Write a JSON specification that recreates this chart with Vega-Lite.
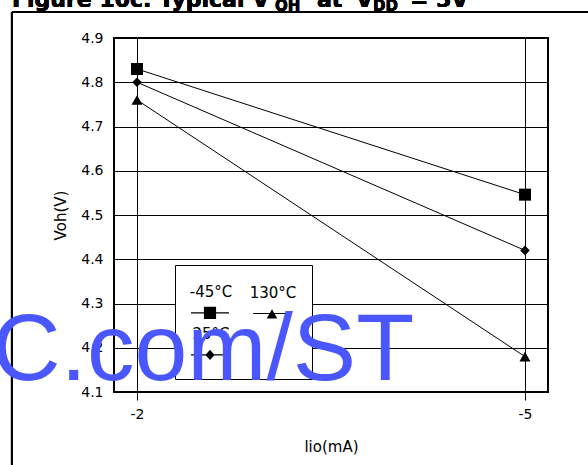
{
  "$schema": "https://vega.github.io/schema/vega-lite/v6.json",
  "width": 434,
  "height": 354,
  "autosize": "none",
  "padding": {"left": 114, "top": 38, "right": 40, "bottom": 73},
  "background": "white",
  "title": {
    "text": "C.com/ST",
    "orient": "bottom",
    "anchor": "start",
    "frame": "group",
    "dx": -122,
    "offset": -88,
    "baseline": "alphabetic",
    "font": "Liberation Sans",
    "fontSize": 95,
    "fontWeight": "normal",
    "color": "#4a57ff"
  },
  "config": {
    "view": {"stroke": "black", "strokeWidth": 2},
    "axis": {
      "domain": false,
      "grid": true,
      "gridColor": "black",
      "gridOpacity": 1,
      "gridWidth": 1,
      "labelFont": "DejaVu Sans",
      "labelFontSize": 14,
      "labelColor": "black",
      "titleFont": "DejaVu Sans",
      "titleFontSize": 15,
      "titleFontWeight": "normal",
      "titleColor": "black",
      "tickColor": "black"
    },
    "text": {"font": "DejaVu Sans", "fontWeight": "bold", "fontSize": 22, "color": "black", "align": "left", "baseline": "alphabetic"}
  },
  "data": {
    "values": [
      {"series": "-45°C", "iio": -2, "voh": 4.83},
      {"series": "-45°C", "iio": -5, "voh": 4.546},
      {"series": "25°C", "iio": -2, "voh": 4.80},
      {"series": "25°C", "iio": -5, "voh": 4.42},
      {"series": "130°C", "iio": -2, "voh": 4.76},
      {"series": "130°C", "iio": -5, "voh": 4.18}
    ]
  },
  "resolve": {"scale": {"shape": "independent"}, "legend": {"shape": "independent"}},
  "layer": [
    {
      "mark": {"type": "line", "color": "black", "strokeWidth": 1},
      "encoding": {
        "x": {
          "field": "iio",
          "type": "quantitative",
          "scale": {"domain": [-5.178, -1.822], "reverse": true, "nice": false, "zero": false},
          "axis": {"title": "lio(mA)", "values": [-2, -5], "labelExpr": "'' + datum.value", "tickSize": 8, "labelPadding": 7, "titlePadding": 18}
        },
        "y": {
          "field": "voh",
          "type": "quantitative",
          "scale": {"domain": [4.1, 4.9], "nice": false, "zero": false},
          "axis": {"title": "Voh(V)", "values": [4.1, 4.2, 4.3, 4.4, 4.5, 4.6, 4.7, 4.8, 4.9], "format": ".1f", "ticks": false, "labelPadding": 11, "titlePadding": 12}
        },
        "detail": {"field": "series"}
      }
    },
    {
      "mark": {"type": "point", "filled": true, "opacity": 0, "color": "black", "size": 144},
      "encoding": {
        "x": {"field": "iio", "type": "quantitative"},
        "y": {"field": "voh", "type": "quantitative"},
        "shape": {
          "field": "series",
          "type": "nominal",
          "scale": {
            "domain": ["-45°C", "25°C", "130°C"],
            "range": [
              "M-1,0.65H1V0.71H-1ZM-0.32,0.36H0.32V1H-0.32Z",
              "M-1,0.65H1V0.71H-1ZM0,0.41L0.24,0.68L0,0.95L-0.24,0.68Z",
              "M-1,0.65H1V0.71H-1ZM0,0.46L0.28,0.94H-0.28Z"
            ]
          },
          "legend": {
            "title": null,
            "orient": "none",
            "legendX": 61,
            "legendY": 227,
            "columns": 2,
            "fillColor": "white",
            "strokeColor": "black",
            "padding": 15,
            "symbolSize": 1444,
            "symbolOpacity": 1,
            "labelFont": "DejaVu Sans",
            "labelFontSize": 15,
            "labelColor": "black",
            "labelAlign": "center",
            "labelBaseline": "bottom",
            "labelOffset": -19,
            "columnPadding": 16,
            "rowPadding": 0
          }
        }
      }
    },
    {
      "mark": {"type": "point", "filled": true, "opacity": 1, "color": "black", "size": 144},
      "encoding": {
        "x": {"field": "iio", "type": "quantitative"},
        "y": {"field": "voh", "type": "quantitative"},
        "shape": {
          "field": "series",
          "type": "nominal",
          "scale": {
            "domain": ["-45°C", "25°C", "130°C"],
            "range": ["M-1,-1H1V1H-1Z", "M0,-0.8L0.8,0L0,0.8L-0.8,0Z", "M0,-0.8L0.92,0.8H-0.92Z"]
          },
          "legend": null
        }
      }
    },
    {
      "mark": {"type": "rule", "color": "black", "strokeWidth": 2},
      "encoding": {"x": {"datum": -1.033}, "y": {"datum": 4.9588}, "y2": {"datum": 3.93}}
    },
    {
      "mark": {"type": "rule", "color": "black", "strokeWidth": 2},
      "encoding": {"y": {"datum": 4.9588}, "x": {"datum": -1.033}, "x2": {"datum": -5.49}}
    },
    {
      "mark": {"type": "text", "text": "Figure 10c. Typical V"},
      "encoding": {"x": {"datum": -1.033}, "y": {"datum": 4.97}}
    },
    {
      "mark": {"type": "text", "text": "OH", "fontSize": 15, "dx": 263, "dy": 4},
      "encoding": {"x": {"datum": -1.033}, "y": {"datum": 4.97}}
    },
    {
      "mark": {"type": "text", "text": "at", "dx": 305},
      "encoding": {"x": {"datum": -1.033}, "y": {"datum": 4.97}}
    },
    {
      "mark": {"type": "text", "text": "V", "dx": 344},
      "encoding": {"x": {"datum": -1.033}, "y": {"datum": 4.97}}
    },
    {
      "mark": {"type": "text", "text": "DD", "fontSize": 15, "dx": 361, "dy": 4},
      "encoding": {"x": {"datum": -1.033}, "y": {"datum": 4.97}}
    },
    {
      "mark": {"type": "text", "text": "= 5V", "dx": 398},
      "encoding": {"x": {"datum": -1.033}, "y": {"datum": 4.97}}
    }
  ]
}
